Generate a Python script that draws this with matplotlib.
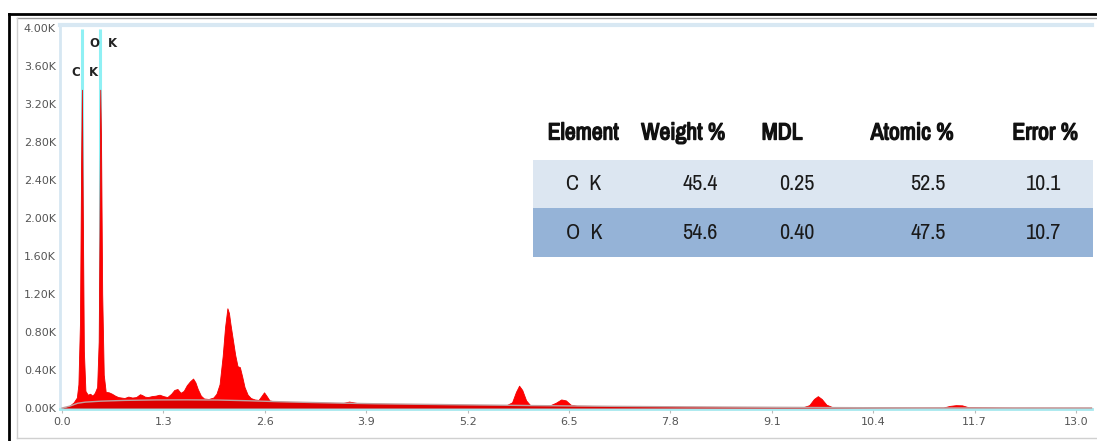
import matplotlib
matplotlib.use("Agg")
import matplotlib.pyplot as plt
from matplotlib import font_manager as fm
from matplotlib import patheffects as pe
from matplotlib.lines import Line2D
from matplotlib.patches import Rectangle
from matplotlib.ticker import FuncFormatter, FixedLocator

# ---------------- data ----------------
spectrum_kev = [0.00, 0.05, 0.10, 0.15, 0.19, 0.21, 0.23, 0.245, 0.255, 0.265,
                0.28, 0.30, 0.33, 0.36, 0.39, 0.42, 0.45, 0.47, 0.48, 0.49,
                0.50, 0.515, 0.535, 0.56, 0.60, 0.64, 0.68, 0.72, 0.76, 0.80,
                0.85, 0.90, 0.95, 1.00, 1.03, 1.06, 1.10, 1.15, 1.20, 1.25,
                1.30, 1.35, 1.40, 1.44, 1.48, 1.52, 1.56, 1.60, 1.64, 1.68,
                1.71, 1.74, 1.78, 1.82, 1.88, 1.94, 1.98, 2.02, 2.06, 2.09,
                2.12, 2.14, 2.16, 2.19, 2.22, 2.25, 2.28, 2.31, 2.34, 2.38,
                2.42, 2.47, 2.52, 2.56, 2.59, 2.62, 2.66, 2.72, 2.85, 3.00,
                3.20, 3.40, 3.60, 3.68, 3.72, 3.80, 4.00, 4.30, 4.60, 5.00,
                5.40, 5.70, 5.77, 5.82, 5.86, 5.90, 5.95, 6.00, 6.10, 6.25,
                6.33, 6.40, 6.46, 6.52, 6.60, 7.00, 7.50, 8.00, 8.50, 9.00,
                9.50, 9.58, 9.64, 9.69, 9.74, 9.80, 9.88, 10.40, 11.00, 11.30,
                11.38, 11.46, 11.54, 11.62, 12.20, 13.20]
spectrum_counts = [0, 5, 25, 60, 110, 250, 900, 2600, 3350, 2200,
                   600, 180, 140, 150, 130, 160, 220, 700, 1800, 3350,
                   2800, 1200, 350, 170, 165, 150, 130, 115, 110, 105,
                   120, 110, 115, 145, 135, 120, 115, 125, 130, 140,
                   125, 115, 150, 190, 200, 160, 180, 240, 280, 310,
                   270, 200, 130, 100, 95, 110, 150, 250, 550, 850,
                   1050, 1000, 880, 720, 560, 440, 430, 330, 220, 140,
                   105, 90, 85, 130, 165, 130, 80, 70, 66, 62,
                   58, 55, 52, 68, 62, 50, 46, 42, 38, 35,
                   32, 30, 60, 170, 235, 190, 80, 32, 28, 26,
                   55, 90, 80, 35, 24, 20, 16, 13, 11, 9,
                   8, 30, 95, 125, 95, 35, 8, 6, 5, 5,
                   22, 30, 28, 8, 4, 3]

background_kev = [0.0, 0.1, 0.2, 0.3, 0.5, 0.8, 1.2, 1.6, 2.0, 2.4, 2.8, 3.2,
                  3.6, 4.0, 4.5, 5.0, 6.0, 7.0, 8.0, 9.0, 10.0, 11.0, 13.2]
background_counts = [0, 20, 50, 62, 72, 80, 85, 86, 84, 76, 66, 58,
                     51, 45, 40, 35, 26, 18, 12, 8, 4, 1, 0]

line_elements = ["C", "O"]
line_kev = [0.255, 0.49]

x_ticks = [0.0, 1.3, 2.6, 3.9, 5.2, 6.5, 7.8, 9.1, 10.4, 11.7, 13.0]
y_ticks = [0, 400, 800, 1200, 1600, 2000, 2400, 2800, 3200, 3600, 4000]

table_header = ["Element", "Weight %", "MDL", "Atomic %", "Error %"]
table_elements = ["C  K", "O  K"]
weight_pct = ["45.4", "54.6"]
mdl = ["0.25", "0.40"]
atomic_pct = ["52.5", "47.5"]
error_pct = ["10.1", "10.7"]

assert len(spectrum_kev) == len(spectrum_counts)

# ---------------- font for the table (narrow if available) ----------------
narrow_family = None
for f in fm.fontManager.ttflist:
    n = f.fname.lower()
    if "narrow" in n and "italic" not in n:
        narrow_family = f.name
        break
if narrow_family:
    table_family = [narrow_family, "DejaVu Sans"]
    header_size, value_size = 17, 16
    header_effect = [pe.withStroke(linewidth=1.0, foreground="#111111")]
else:
    table_family = ["Liberation Sans", "DejaVu Sans"]
    header_size, value_size = 14, 14
    header_effect = []

# ---------------- figure ----------------
W, H = 1097, 441
fig = plt.figure(figsize=(W / 100, H / 100), dpi=100)
fig.patch.set_facecolor("white")


def fx(px):
    return px / W


def fy(py):
    return 1 - py / H


ax = fig.add_axes([fx(60), fy(409), fx(1092) - fx(60), fy(25) - fy(409)])
ax.set_xlim(-0.026, 13.205)
ax.set_ylim(-10.5, 4031)

# cyan marker lines behind the peaks
for e in line_kev:
    ax.plot([e, e], [0, 3990], color="#8ff0f4", lw=2.2, zorder=1, solid_capstyle="butt")

ax.fill_between(spectrum_kev, 0, spectrum_counts, color="#ff0000", lw=0.6,
                edgecolor="#f00000", zorder=2)
ax.fill_between(background_kev, 0, background_counts, color="#dc0000", lw=0, zorder=3)
ax.plot(background_kev, background_counts, color="#c0a0a0", lw=1.0, zorder=4)

# peak labels
lab_font = dict(fontsize=8.5, fontweight="bold", color="#222222", ha="center", va="center")
ax.text(0.17, 3530, "C", **lab_font)
ax.text(0.40, 3530, "K", **lab_font)
ax.text(0.42, 3840, "O", **lab_font)
ax.text(0.65, 3840, "K", **lab_font)

# axes styling
ax.xaxis.set_major_locator(FixedLocator(x_ticks))
ax.yaxis.set_major_locator(FixedLocator(y_ticks))
ax.xaxis.set_major_formatter(FuncFormatter(lambda v, p: f"{v:.1f}"))
ax.yaxis.set_major_formatter(FuncFormatter(lambda v, p: f"{v / 1000:.2f}K"))
ax.tick_params(axis="x", colors="#bbbbbb", labelcolor="#555555", labelsize=8,
               length=3, width=0.8, pad=3)
ax.tick_params(axis="y", colors="#bbbbbb", labelcolor="#555555", labelsize=8,
               length=0, pad=3)
ax.spines["right"].set_visible(False)
ax.spines["left"].set_color("#d6e7f2")
ax.spines["left"].set_linewidth(2)
ax.spines["top"].set_color("#d8e8f3")
ax.spines["top"].set_linewidth(3)
ax.spines["bottom"].set_color("#a6e8ee")
ax.spines["bottom"].set_linewidth(2)
ax.set_facecolor("white")

# ---------------- table ----------------
fig.patches.append(Rectangle((fx(533), fy(208)), fx(1093) - fx(533), fy(160) - fy(208),
                             transform=fig.transFigure, facecolor="#dce6f1",
                             edgecolor="none", zorder=5))
fig.patches.append(Rectangle((fx(533), fy(257)), fx(1093) - fx(533), fy(208) - fy(257),
                             transform=fig.transFigure, facecolor="#95b3d7",
                             edgecolor="none", zorder=5))

header_x = [583, 683, 782, 912, 1045]
for hx, txt in zip(header_x, table_header):
    fig.text(fx(hx), fy(133), txt, ha="center", va="center", fontsize=header_size,
             fontweight="bold", family=table_family, color="#111111", zorder=6,
             path_effects=header_effect)

value_x = [584, 700, 797, 928, 1044]
row_y = [184, 233]
columns = [table_elements, weight_pct, mdl, atomic_pct, error_pct]
for ci, col in enumerate(columns):
    for ri, txt in enumerate(col):
        fig.text(fx(value_x[ci]), fy(row_y[ri]), txt, ha="center", va="center",
                 fontsize=value_size, family=table_family, color="#1a1a1a", zorder=6)

# ---------------- screenshot frame ----------------
fig.add_artist(Line2D([fx(9), 1], [fy(14), fy(14)], transform=fig.transFigure,
                      color="black", lw=2))
fig.add_artist(Line2D([fx(9), fx(9)], [fy(14), 0], transform=fig.transFigure,
                      color="black", lw=2))
fig.add_artist(Line2D([fx(17), 1], [fy(18), fy(18)], transform=fig.transFigure,
                      color="#9a9a9a", lw=1))
fig.add_artist(Line2D([fx(17), fx(17)], [fy(18), fy(438)], transform=fig.transFigure,
                      color="#d0d0d0", lw=1))
fig.add_artist(Line2D([fx(17), 1], [fy(438), fy(438)], transform=fig.transFigure,
                      color="#d0d0d0", lw=1))

fig.savefig("out.png", dpi=100)
